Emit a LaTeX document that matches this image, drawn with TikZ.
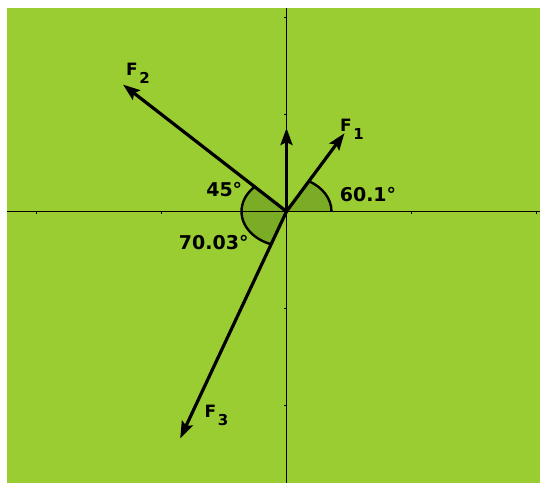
\documentclass[tikz,border=0pt]{standalone}
\usepackage{fontspec}
\setmainfont{DejaVu Sans}
\usetikzlibrary{arrows.meta}
\definecolor{bggreen}{RGB}{154,205,50}
\definecolor{arcgreen}{RGB}{122,172,38}
\newcommand{\forcename}[1]{F\kern1.5pt\raisebox{-8pt}{\fontsize{15}{15}\selectfont #1}}

\begin{document}
\begin{tikzpicture}[x=125pt, y=97pt,
    axis/.style={line width=1.7pt},
    force/.style={line width=3.2pt, -{Stealth[length=17pt, width=12pt, inset=3pt]}},
    anglearc/.style={line width=2.4pt},
    anglefill/.style={fill=arcgreen},
    anglelabel/.style={font=\fontsize{19}{19}\selectfont\bfseries, inner sep=0pt},
    forcelabel/.style={font=\fontsize{17}{17}\selectfont\bfseries, inner sep=0pt, anchor=base west}]
  \useasboundingbox (-2.292,-2.799) rectangle (2.028,2.180);
  \fill[bggreen] (-2.236,-2.799) rectangle (2.028,2.098);

  \coordinate (O) at (0,0);
  \coordinate (xl) at (-2.236,0);
  \coordinate (xr) at (2.028,0);
  \coordinate (yb) at (0,-2.799);
  \coordinate (yt) at (0,2.098);
  \coordinate (F1) at (60.1:0.93);
  \coordinate (F2) at (135:1.85);
  \coordinate (F3) at (250.03:2.49);
  \coordinate (R) at (0,0.86);

  \fill[anglefill] (O) -- ++(0.36,0) arc[start angle=0, end angle=60.1, radius=0.36] -- cycle;
  \fill[anglefill] (O) -- (135:0.36) arc[start angle=135, end angle=250.03, radius=0.36] -- cycle;

  \draw[axis] (xl) -- (xr);
  \draw[axis] (yb) -- (yt);
  \foreach \i in {-2,-1,1,2} {
    \draw[axis] (\i,0) -- ++(0,-3pt);
    \draw[axis] (0,\i) -- ++(-3pt,0);
  }

  \draw[anglearc] (0.36,0) arc[start angle=0, end angle=60.1, radius=0.36];
  \draw[anglearc] (135:0.36) arc[start angle=135, end angle=250.03, radius=0.36];

  \draw[force] (O) -- (F1);
  \draw[force] (O) -- (F2);
  \draw[force] (O) -- (F3);
  \draw[force] (O) -- (R);

  \node[anglelabel] (a1) at (0.652,0.178) {60.1°};
  \node[anglelabel] (a2) at (-0.498,0.222) {45°};
  \node[anglelabel] (a3) at (-0.582,-0.320) {70.03°};
  \node[forcelabel] (f1) at (0.428,0.820) {\forcename{1}};
  \node[forcelabel] (f2) at (-1.284,1.397) {\forcename{2}};
  \node[forcelabel] (f3) at (-0.656,-2.122) {\forcename{3}};
\end{tikzpicture}
\end{document}
